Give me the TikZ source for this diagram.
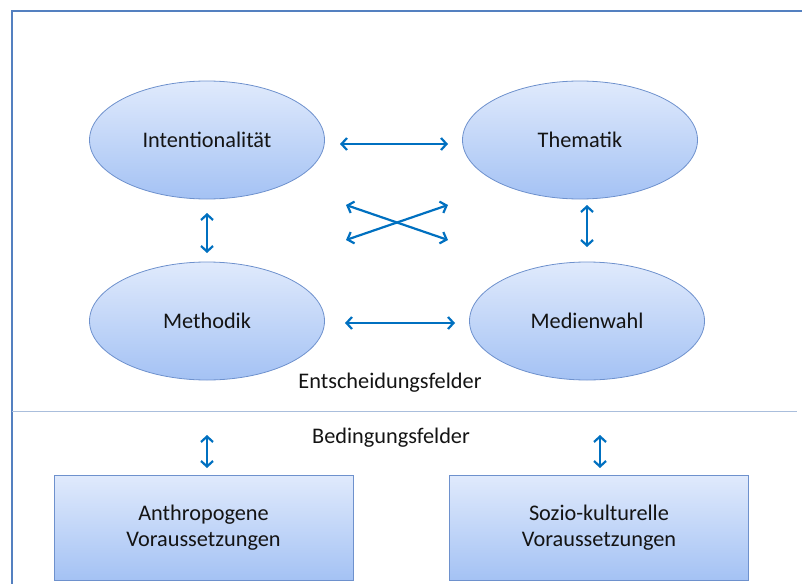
\documentclass[tikz,border=0pt]{standalone}
\usepackage{fontspec}
\setmainfont{Carlito}
\usetikzlibrary{shapes.geometric,arrows.meta}
\definecolor{framecol}{RGB}{84,128,192}
\definecolor{sepcol}{RGB}{170,190,220}
\definecolor{shapeline}{RGB}{110,145,205}
\definecolor{filltop}{RGB}{224,234,252}
\definecolor{fillbot}{RGB}{164,194,244}
\definecolor{arrowcol}{RGB}{0,112,192}
\definecolor{txt}{RGB}{20,20,20}
\tikzset{
  field/.style={ellipse, draw=shapeline, line width=0.8pt, top color=filltop, bottom color=fillbot,
    minimum width=235pt, minimum height=118pt, inner sep=0pt, text=txt, font=\fontsize{22.3}{27}\selectfont},
  condbox/.style={rectangle, draw=shapeline, line width=0.8pt, top color=filltop, bottom color=fillbot,
    minimum width=299pt, minimum height=105pt, inner sep=0pt, text=txt, align=center,
    font=\fontsize{22.3}{26.5}\selectfont},
  label/.style={text=txt, font=\fontsize{22.3}{27}\selectfont, inner sep=0pt},
  link/.style={draw=arrowcol, line width=2.2pt, {Straight Barb[length=5.5pt,width=12pt]}-{Straight Barb[length=5.5pt,width=12pt]}}
}
\begin{document}
\begin{tikzpicture}[x=1pt,y=-1pt]
\useasboundingbox (0,0) rectangle (802,583);
\begin{scope}
\clip (0,0) rectangle (802,583);
\draw[framecol, line width=2pt] (12,600) -- (12,11) -- (820,11);
\end{scope}
\draw[sepcol, line width=0.8pt] (12,411) -- (797,411);

\node[field] (I) at (207,140) {Intentionalität};
\node[field] (T) at (580,140) {Thematik};
\node[field] (M) at (207,321) {Methodik};
\node[field] (W) at (587,321) {Medienwahl};

\node[label] (E) at (390,383) {Entscheidungsfelder};
\node[label] (B) at (391,438) {Bedingungsfelder};

\node[condbox] (A) at (203.5,527.5) {Anthropogene\\Voraussetzungen};
\node[condbox] (S) at (599,527.5) {Sozio-kulturelle\\Voraussetzungen};

\coordinate (a1) at (340,144); \coordinate (a2) at (448,144);
\coordinate (c1) at (346,205); \coordinate (c2) at (448,240);
\coordinate (c3) at (346,240); \coordinate (c4) at (448,205);
\coordinate (v1) at (207,213); \coordinate (v2) at (207,253);
\coordinate (v3) at (587,205); \coordinate (v4) at (587,247);
\coordinate (b1) at (345,323); \coordinate (b2) at (455,323);
\coordinate (d1) at (207,435); \coordinate (d2) at (207,468);
\coordinate (d3) at (600,435); \coordinate (d4) at (600,468);

\draw[link] (a1) -- (a2);
\draw[link] (c1) -- (c2);
\draw[link] (c3) -- (c4);
\draw[link] (v1) -- (v2);
\draw[link] (v3) -- (v4);
\draw[link] (b1) -- (b2);
\draw[link] (d1) -- (d2);
\draw[link] (d3) -- (d4);
\end{tikzpicture}
\end{document}
